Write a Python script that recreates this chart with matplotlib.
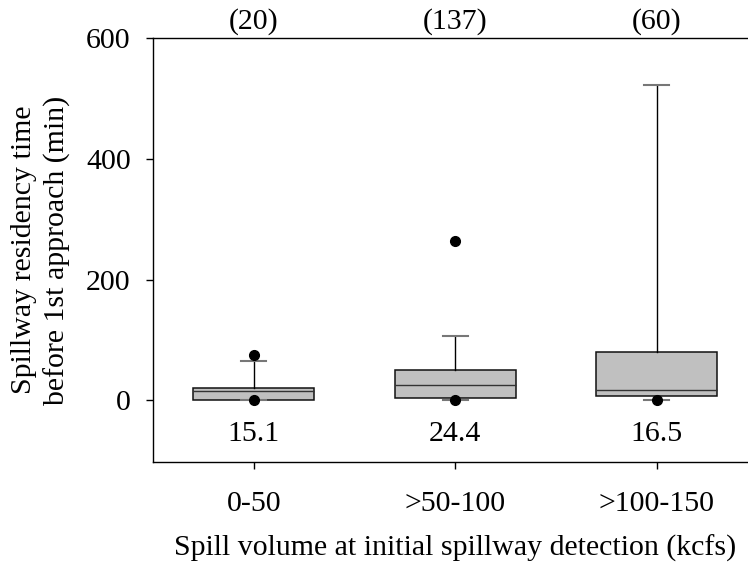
import matplotlib
matplotlib.use("Agg")
import matplotlib.pyplot as plt

plt.rcParams['font.family'] = ['Liberation Serif', 'DejaVu Serif']

categories = ["0-50", ">50-100", ">100-150"]
counts = ["(20)", "(137)", "(60)"]
medians = [15.1, 24.4, 16.5]
q1 = [1.0, 3.0, 6.6]
q3 = [20.0, 50.0, 80.0]
whisker_low = [0.5, 0.5, 0.5]
whisker_high = [65.0, 106.0, 523.0]
outliers = [[75.0, 0.0], [264.0, 0.0], [0.0]]

FS = 21.5

fig = plt.figure(figsize=(7.48, 5.67), dpi=100)
ax = fig.add_axes([153 / 748, (567 - 461.7) / 567, 604.5 / 748, (461.7 - 38.3) / 567])

stats = []
for i in range(len(categories)):
    stats.append(dict(med=medians[i], q1=q1[i], q3=q3[i],
                      whislo=whisker_low[i], whishi=whisker_high[i],
                      fliers=outliers[i], label=categories[i]))

positions = [1, 2, 3]
ax.bxp(stats, positions=positions, widths=0.6, patch_artist=True,
       showfliers=True,
       boxprops=dict(facecolor="#c0c0c0", edgecolor="#111111", linewidth=1.1),
       medianprops=dict(color="#333333", linewidth=1.0),
       whiskerprops=dict(color="#000000", linewidth=1.0),
       capprops=dict(color="#777777", linewidth=1.5),
       capwidths=0.125,
       flierprops=dict(marker="o", markerfacecolor="black", markeredgecolor="black",
                       markersize=7, linestyle="none"))

ax.set_xlim(0.5, 3.5)
ax.set_ylim(-102, 600)
ax.set_yticks([0, 200, 400, 600])
ax.set_xticks(positions)
ax.set_xticklabels(categories)

ax.spines['right'].set_visible(False)
for s in ['left', 'bottom', 'top']:
    ax.spines[s].set_linewidth(1.0)
ax.tick_params(axis='both', direction='out', length=5, width=1.0, labelsize=FS)
ax.tick_params(axis='y', pad=11)
ax.tick_params(axis='x', pad=16)

for p, m in zip(positions, medians):
    ax.text(p, -56, f"{m}", ha='center', va='center', fontsize=FS)

for p, c in zip(positions, counts):
    ax.text(p, 1.008, c, transform=ax.get_xaxis_transform(), ha='center', va='bottom', fontsize=FS)

ax.set_ylabel("Spillway residency time\nbefore 1st approach (min)", fontsize=FS, linespacing=1.3)
ax.yaxis.label.set_va('center')
ax.yaxis.set_label_coords((41 - 153) / 604.5, 0.5)
ax.set_xlabel("Spill volume at initial spillway detection (kcfs)", fontsize=FS)
ax.xaxis.label.set_va('center')
ax.xaxis.set_label_coords((455 - 153) / 604.5, -(548 - 461.7) / 423.4)

fig.savefig("out.png", dpi=100)
